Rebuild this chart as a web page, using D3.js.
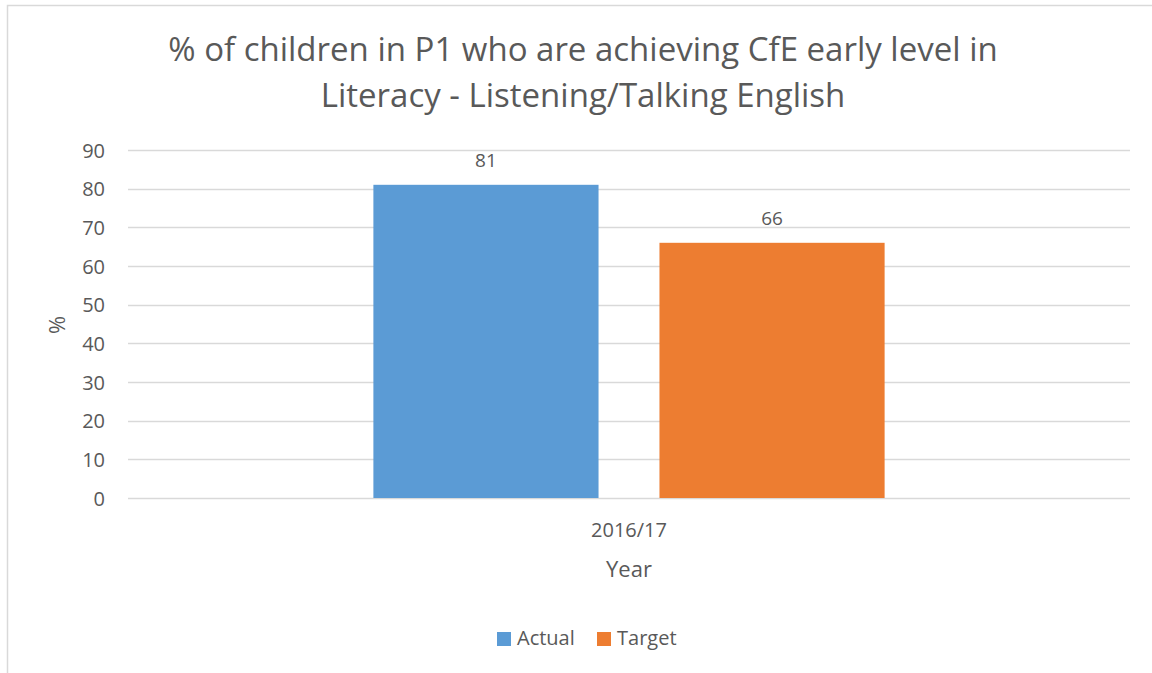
<!DOCTYPE html>
<html><head><meta charset="utf-8">
<script src="https://cdn.jsdelivr.net/npm/d3@7"></script>
<style>body{margin:0;background:#fff}svg{display:block}text{font-family:"Open Sans",sans-serif;fill:#595959}</style>
</head><body>
<script>
const categories = ["2016/17"];
const seriesNames = ["Actual", "Target"];
const actualValues = [81];
const targetValues = [66];
const yTicks = [0,10,20,30,40,50,60,70,80,90];
const colors = ["#5b9bd5", "#ed7d31"];
const titleLines = ["% of children in P1 who are achieving CfE early level in", "Literacy - Listening/Talking English"];

const W = 1152, H = 673;
const svg = d3.select("body").append("svg").attr("width", W).attr("height", H);
svg.append("rect").attr("x", 7.5).attr("y", 5.5).attr("width", W + 10).attr("height", H + 10)
  .attr("fill", "#fff").attr("stroke", "#d9d9d9").attr("stroke-width", 1.5);

const m = {left: 128, right: 1130, top: 150, bottom: 498};
const y = d3.scaleLinear().domain([0, 90]).range([m.bottom, m.top]);
const x0 = d3.scaleBand().domain(categories).range([m.left, m.right]).paddingInner(0).paddingOuter(0.48);
const x1 = d3.scaleBand().domain(seriesNames).range([0, x0.bandwidth()]).paddingInner(0.213).paddingOuter(0);

// gridlines
svg.append("g").selectAll("line").data(yTicks).join("line")
  .attr("x1", m.left).attr("x2", m.right)
  .attr("y1", d => Math.round(y(d)) + 0.5).attr("y2", d => Math.round(y(d)) + 0.5)
  .attr("stroke", "#d9d9d9").attr("stroke-width", 1.5);

// y axis labels
const yAxis = d3.axisLeft(y).tickValues(yTicks).tickSize(0).tickPadding(0);
const gy = svg.append("g").attr("transform", `translate(105,0)`).call(yAxis);
gy.select(".domain").remove();
gy.selectAll("text").style("font-size", "20px").attr("fill", "#595959").attr("dy", "0.35em");

const data = categories.map((c, i) => ({cat: c, vals: [
  {name: "Actual", v: actualValues[i]}, {name: "Target", v: targetValues[i]}]}));

const groups = svg.append("g").selectAll("g").data(data).join("g")
  .attr("transform", d => `translate(${x0(d.cat)},0)`);
groups.selectAll("rect").data(d => d.vals).join("rect")
  .attr("x", d => x1(d.name)).attr("width", x1.bandwidth())
  .attr("y", d => y(d.v)).attr("height", d => y(0) - y(d.v))
  .attr("fill", (d, i) => colors[i]);
groups.selectAll("text.val").data(d => d.vals).join("text").attr("class", "val")
  .attr("x", d => x1(d.name) + x1.bandwidth() / 2).attr("y", d => y(d.v) - 18)
  .attr("text-anchor", "middle").style("font-size", "19px").text(d => d.v);

// x axis labels
const xAxis = d3.axisBottom(x0).tickSize(0).tickPadding(0);
const gx = svg.append("g").attr("transform", `translate(0,${m.bottom})`).call(xAxis);
gx.select(".domain").remove();
gx.selectAll("text").style("font-size", "20px").attr("fill", "#595959").attr("dy", null).attr("y", 39);

// axis titles
svg.append("text").attr("x", (m.left + m.right) / 2).attr("y", 577).attr("text-anchor", "middle")
  .style("font-size", "22px").text("Year");
svg.append("text").attr("transform", "translate(65,325) rotate(-90)").attr("text-anchor", "middle")
  .style("font-size", "22px").text("%");

// title
svg.append("g").selectAll("text").data(titleLines).join("text")
  .attr("x", 583).attr("y", (d, i) => 61 + i * 46).attr("text-anchor", "middle")
  .style("font-size", "33px").text(d => d);

// legend
const lg = svg.append("g");
const legX = [497, 597];
seriesNames.forEach((s, i) => {
  lg.append("rect").attr("x", legX[i]).attr("y", 632).attr("width", 14).attr("height", 14).attr("fill", colors[i]);
  lg.append("text").attr("x", legX[i] + 20).attr("y", 645).style("font-size", "20px").text(s);
});
</script>
</body></html>
